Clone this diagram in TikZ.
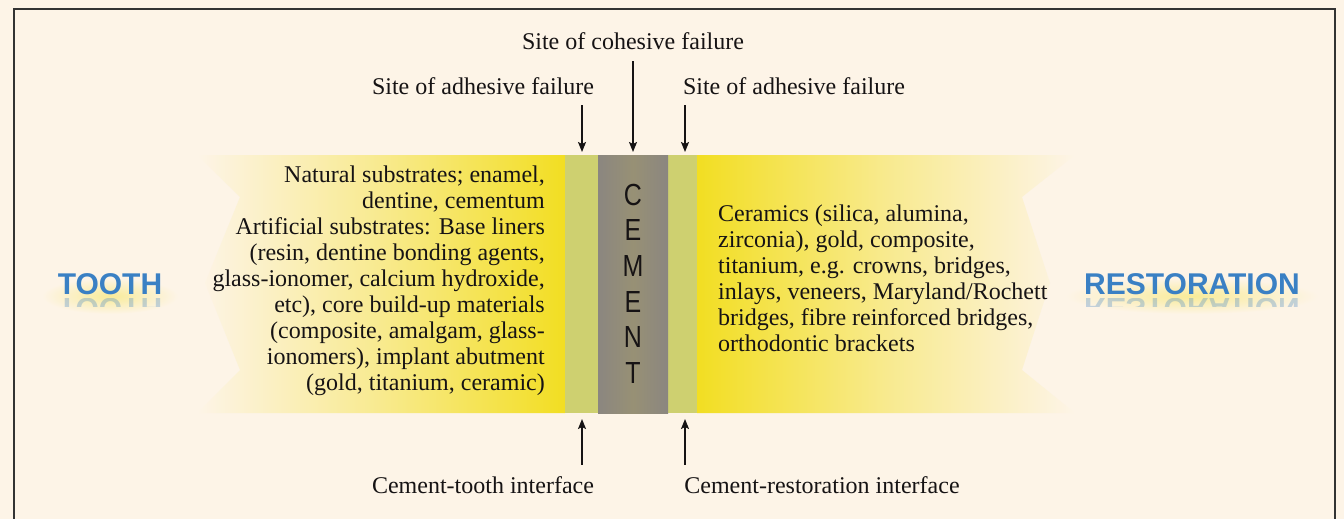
\documentclass[tikz,border=0pt]{standalone}
\usepackage{fontspec}
\setmainfont{Liberation Serif}
\setsansfont{Liberation Sans}
\usepackage{tikz}
\usetikzlibrary{
    arrows.meta, positioning, calc
}
\definecolor{colBg}{RGB}{253, 244, 231}
\definecolor{colYel}{RGB}{242, 222, 34}
\definecolor{colLine}{RGB}{206, 208, 112}
\definecolor{colCem}{RGB}{139, 134, 128}
\definecolor{colBlue}{RGB}{58, 128, 196}
\definecolor{colTxt}{RGB}{22, 19, 20}

\begin{document}
\begin{tikzpicture}[x=1pt, y=-1pt,
    every node/.style={font=\fontsize{24}{26}\selectfont, text=colTxt},
    lbl/.style={inner sep=5pt},
    arr/.style={-{Stealth[length=10pt, width=8pt, inset=2pt]}, line width=1.6pt, colTxt, shorten <=6pt},
    side/.style={font=\sffamily\bfseries\fontsize{30}{30}\selectfont, text=colBlue, inner sep=0pt}]
    % --- Hintergrund und Rahmen ---
    \useasboundingbox (0, 0) rectangle (1344, 519);
    \fill[colBg] (0, 0) rectangle (1344, 519);
    \draw[black!80, line width=1.5pt] (14, 519) -- (14, 9) -- (1335, 9) -- (1335, 519);

    % --- Band Zahn (links, Zickzack-Rand) ---
    \shade[left color=colBg, right color=colYel, middle color=colYel!45!colBg]
        (197, 155) -- (565, 155) -- (565, 413) -- (197, 413)
        -- (240, 370) -- (205, 283) -- (240, 197) -- cycle;
    % --- Band Restauration (rechts) ---
    \shade[left color=colYel, right color=colBg, middle color=colYel!45!colBg]
        (697, 155) -- (1075, 155) -- (1022, 197) -- (1050, 283)
        -- (1022, 370) -- (1075, 413) -- (697, 413) -- cycle;

    % --- Grenzflaechen und Zement ---
    \fill[colLine] (565, 155) rectangle (598, 413);
    \fill[colLine] (668, 155) rectangle (697, 413);
    \shade[left color=colCem, right color=colCem, middle color=colCem!88!colYel]
        (598, 155) rectangle (668, 413);
    \foreach \l/\y in {C/195, E/230, M/266, E/302, N/337, T/373}
        \node[font=\sffamily\fontsize{25}{25}\selectfont, inner sep=0pt] (cem\y) at (633, \y) {\scalebox{1}[1.22]{\l}};

    % --- Seitentitel mit Schein und Spiegelung ---
    \shade[inner color=colYel!40!colBg, outer color=colBg] (110, 296) ellipse (68 and 18);
    \shade[inner color=colYel!40!colBg, outer color=colBg] (1192, 296) ellipse (126 and 18);
    \node[side, anchor=base] (tooth) at (110, 294) {TOOTH};
    \node[side, anchor=base] (resto) at (1192, 294) {RESTORATION};
    \begin{scope}
        \clip (40, 298) rectangle (1320, 306);
        \node[side, anchor=base, opacity=0.3] (toothR) at (110, 298) {\scalebox{1}[-1]{TOOTH}};
        \node[side, anchor=base, opacity=0.3] (restoR) at (1192, 298) {\scalebox{1}[-1]{RESTORATION}};
    \end{scope}

    % --- Substrate ---
    \node[anchor=north east, align=right, inner sep=0pt] (toothTxt) at (545, 166)
        {Natural substrates; enamel,\\ dentine, cementum\\
         Artificial substrates: Base liners\\ (resin, dentine bonding agents,\\
         glass-ionomer, calcium hydroxide,\\ etc), core build-up materials\\
         (composite, amalgam, glass-\\ ionomers), implant abutment\\
         (gold, titanium, ceramic)};
    \node[anchor=north west, align=left, inner sep=0pt] (restoTxt) at (718, 205)
        {Ceramics (silica, alumina,\\ zirconia), gold, composite,\\
         titanium, e.g. crowns, bridges,\\ inlays, veneers, Maryland/Rochett\\
         bridges, fibre reinforced bridges,\\ orthodontic brackets};

    % --- Beschriftungen oben ---
    \node[lbl, anchor=base] (lblCoh) at (633, 50) {Site of cohesive failure};
    \node[lbl, anchor=base] (lblAdhL) at (483, 94) {Site of adhesive failure};
    \node[lbl, anchor=base] (lblAdhR) at (794, 94) {Site of adhesive failure};
    % --- Beschriftungen unten ---
    \node[lbl, anchor=base] (lblIfT) at (483, 493) {Cement-tooth interface};
    \node[lbl, anchor=base] (lblIfR) at (822, 493) {Cement-restoration interface};

    % --- Pfeile ---
    \coordinate (tipCoh) at (633, 152);
    \coordinate (tipAdhL) at (582, 152);
    \coordinate (tipAdhR) at (685, 152);
    \coordinate (tipIfT) at (582, 419);
    \coordinate (tipIfR) at (685, 419);
    \draw[arr] (lblCoh.south -| tipCoh) -- (tipCoh);
    \draw[arr] (lblAdhL.south -| tipAdhL) -- (tipAdhL);
    \draw[arr] (lblAdhR.south -| tipAdhR) -- (tipAdhR);
    \draw[arr] (lblIfT.north -| tipIfT) -- (tipIfT);
    \draw[arr] (lblIfR.north -| tipIfR) -- (tipIfR);
\end{tikzpicture}
\end{document}
